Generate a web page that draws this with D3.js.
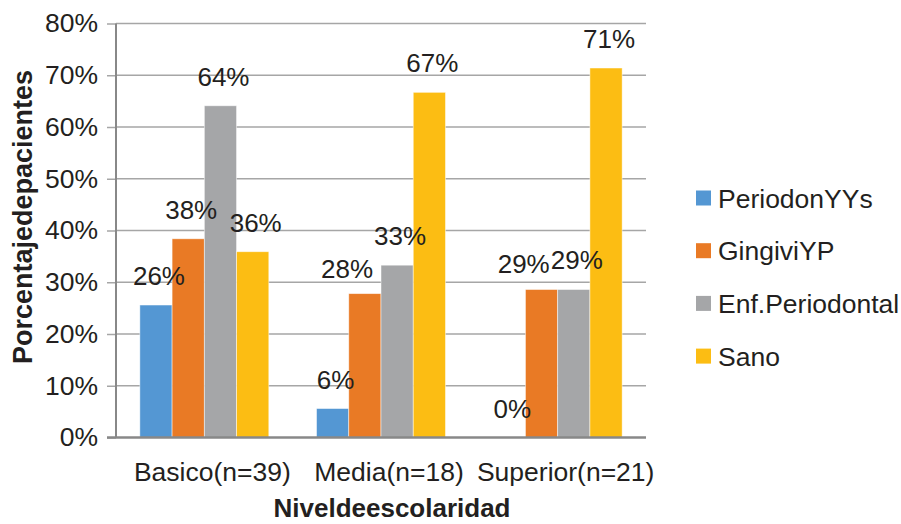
<!DOCTYPE html>
<html>
<head>
<meta charset="utf-8">
<script src="https://cdn.jsdelivr.net/npm/d3@7"></script>
<style>
  html, body { margin: 0; padding: 0; background: #fff; }
  svg { display: block; font-family: "Liberation Sans", Arial, sans-serif; }
</style>
</head>
<body>
<svg id="chart" width="901" height="524"></svg>
<script>
// ---- data ----
const categories = ["Basico(n=39)", "Media(n=18)", "Superior(n=21)"];
const seriesNames = ["PeriodonYYs", "GingiviYP", "Enf.Periodontal", "Sano"];
const periodonYYs    = [25.6, 5.6, 0];
const gingiviYP      = [38.4, 27.8, 28.6];
const enfPeriodontal = [64.1, 33.3, 28.6];
const sano           = [35.9, 66.7, 71.4];
const yTicks = [0, 10, 20, 30, 40, 50, 60, 70, 80];
const colors = ["#5497d3", "#e97a25", "#a5a6a8", "#fcbd13"];
const yTitle = "Porcentajedepacientes";
const xTitle = "Niveldeescolaridad";

const seriesValues = [periodonYYs, gingiviYP, enfPeriodontal, sano];

// ---- layout ----
const svg = d3.select("#chart");
const plot = { left: 116, right: 646, top: 23.5, bottom: 437.5 };
const textColor = "#231f20";

const x0 = d3.scaleBand().domain(categories)
  .range([plot.left, plot.right]).paddingInner(0.27).paddingOuter(0.135);
const x1 = d3.scaleBand().domain(seriesNames).range([0, x0.bandwidth()]).padding(0);
const y = d3.scaleLinear().domain([0, 80]).range([plot.bottom, plot.top]);
const color = d3.scaleOrdinal().domain(seriesNames).range(colors);

svg.append("rect").attr("width", 901).attr("height", 524).attr("fill", "#fff");

// gridlines
svg.append("g").selectAll("line").data(yTicks.filter(d => d > 0)).join("line")
  .attr("x1", plot.left).attr("x2", plot.right)
  .attr("y1", d => y(d)).attr("y2", d => y(d))
  .attr("stroke", "#a6a6a6").attr("stroke-width", 1.5);

// y axis
const yAxis = d3.axisLeft(y).tickValues(yTicks).tickFormat(d => d + "%")
  .tickSize(9).tickPadding(9);
const gy = svg.append("g").attr("transform", `translate(${plot.left},0)`).call(yAxis);
gy.select(".domain").remove();
gy.selectAll(".tick line").attr("stroke", "#a6a6a6").attr("stroke-width", 1.5);
gy.selectAll(".tick text").attr("font-size", 26.5).attr("fill", textColor)
  .attr("font-family", "Liberation Sans, Arial, sans-serif");

// bars
const data = [];
categories.forEach((c, i) => seriesNames.forEach((s, j) => data.push({ c, s, v: seriesValues[j][i] })));

svg.append("g").selectAll("rect").data(data).join("rect")
  .attr("x", d => x0(d.c) + x1(d.s))
  .attr("width", x1.bandwidth())
  .attr("y", d => y(d.v))
  .attr("height", d => y(0) - y(d.v))
  .attr("fill", d => color(d.s))
  .attr("stroke", "#ffffff").attr("stroke-opacity", 0.6).attr("stroke-width", 0.8);

// axis lines
svg.append("line").attr("x1", plot.left).attr("x2", plot.left)
  .attr("y1", plot.top).attr("y2", plot.bottom)
  .attr("stroke", "#888888").attr("stroke-width", 2);
const xAxis = d3.axisBottom(x0).tickSize(0).tickPadding(25);
const gx = svg.append("g").attr("transform", `translate(0,${plot.bottom})`).call(xAxis);
gx.select(".domain").attr("stroke", "#888888").attr("stroke-width", 2.5)
  .attr("d", `M${plot.left - 9},0H${plot.right}`);
gx.selectAll(".tick text").attr("font-size", 26.5).attr("fill", textColor)
  .attr("dx", 8)
  .attr("font-family", "Liberation Sans, Arial, sans-serif");

// data labels
const labelsG = svg.append("g");
const labels = labelsG.selectAll("text").data(data).join("text")
  .attr("x", d => x0(d.c) + x1(d.s) + x1.bandwidth() / 2 + 3)
  .attr("y", d => y(d.v) - 20)
  .attr("text-anchor", "middle")
  .attr("font-size", 26).attr("fill", textColor)
  .text(d => Math.round(d.v) + "%");

// simple collision avoidance within a group: shift the left label left
const nodes = labels.nodes();
for (let k = 0; k < nodes.length - 1; k++) {
  const a = nodes[k], b = nodes[k + 1];
  if (a.__data__.c !== b.__data__.c) continue;
  const ba = a.getBBox(), bb = b.getBBox();
  const hOverlap = ba.x + ba.width - bb.x;
  const vOverlap = Math.min(ba.y + ba.height, bb.y + bb.height) - Math.max(ba.y, bb.y);
  if (hOverlap > 0 && vOverlap > 0) {
    d3.select(a).attr("x", +d3.select(a).attr("x") - hOverlap - 1)
      .attr("y", +d3.select(a).attr("y") + 4);
  }
}

// axis titles
svg.append("text")
  .attr("transform", `translate(32,217) rotate(-90)`)
  .attr("text-anchor", "middle").attr("font-size", 27).attr("font-weight", "bold")
  .attr("fill", textColor).text(yTitle);
svg.append("text")
  .attr("x", x0(categories[1]) + x0.bandwidth() / 2 + 11).attr("y", 517)
  .attr("text-anchor", "middle").attr("font-size", 26).attr("font-weight", "bold")
  .attr("fill", textColor).text(xTitle);

// legend
const legend = svg.append("g").attr("transform", "translate(696,198)");
const li = legend.selectAll("g").data(seriesNames).join("g")
  .attr("transform", (d, i) => `translate(0,${i * 52.7})`);
li.append("rect").attr("x", 0).attr("y", -7.5).attr("width", 15).attr("height", 15)
  .attr("fill", d => color(d));
li.append("text").attr("x", 22).attr("y", 9.5).attr("font-size", 26.5)
  .attr("fill", textColor).text(d => d);
</script>
</body>
</html>
